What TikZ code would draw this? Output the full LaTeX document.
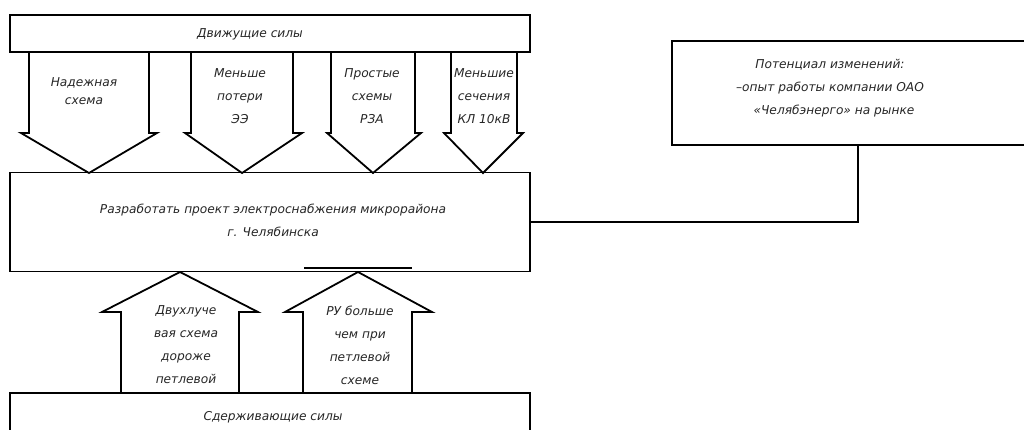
\documentclass[tikz,border=0pt]{standalone}
\usepackage{fontspec}
\setmainfont{DejaVu Sans}
\begin{document}
\begin{tikzpicture}[x=1pt,y=-1pt,
  line width=1.8pt,
  lbl/.style={font=\itshape\fontsize{12.2}{23}\selectfont, align=center, inner sep=0pt, text=black!85},
  box/.style={draw, minimum width=520pt, inner sep=0pt},
  arr/.style={draw, line join=miter}]
\useasboundingbox (0,0) rectangle (1024,430);
\clip (0,0) rectangle (1024,430);
% boxes
\node[box, minimum height=37pt] (top) at (270,33.5) {};
\node[box, minimum height=99pt] (mid) at (270,222) {};
\node[box, minimum height=60pt] (bot) at (270,423) {};
\node[lbl] (toptxt) at (250,34) {Движущие силы};
\node[lbl] (midtxt) at (273,220) {Разработать проект электроснабжения микрорайона\\г. Челябинска};
\node[lbl] (bottxt) at (273,417) {Сдерживающие силы};
% right box
\coordinate (rbl) at (672,41);
\draw (1030,41) -- (rbl) -- (672,145) -- (1030,145);
\node[lbl] (rtxt) at (830,88) {Потенциал изменений:\\–опыт работы компании ОАО\\\hspace*{8pt}«Челябэнерго» на рынке};
\coordinate (rc) at (858,145);
\draw (rc) |- (mid.east);
% down arrows
\foreach \sl/\sr/\hl/\hr/\tx/\nm in {29/149/21/157/89/a1, 191/293/185/302/242/a2, 331/415/327/421/373/a3, 451/517/444/523/483/a4}{
  \draw[arr] (\sl,52) -- (\sl,133) -- (\hl,133) -- (\tx,173) -- (\hr,133) -- (\sr,133) -- (\sr,52);
}
\node[lbl, font=\itshape\fontsize{12.2}{18}\selectfont] (t1) at (84,91) {Надежная\\схема};
\node[lbl] (t2) at (240,96) {Меньше\\потери\\ЭЭ};
\node[lbl] (t3) at (372,96) {Простые\\схемы\\РЗА};
\node[lbl] (t4) at (484,96) {Меньшие\\сечения\\КЛ 10кВ};
% up arrows
\foreach \sl/\sr/\hl/\hr/\tx in {121/239/102/258/180, 303/412/285/432/358}{
  \draw[arr] (\sl,393) -- (\sl,312) -- (\hl,312) -- (\tx,272) -- (\hr,312) -- (\sr,312) -- (\sr,393);
}
\node[lbl] (u1) at (186,345) {Двухлуче\\вая схема\\дороже\\петлевой};
\node[lbl] (u2) at (360,345) {РУ больше\\чем при\\петлевой\\схеме};
% small extra line
\draw[line width=1.2pt] (304,268) -- (412,268);
\end{tikzpicture}
\end{document}
